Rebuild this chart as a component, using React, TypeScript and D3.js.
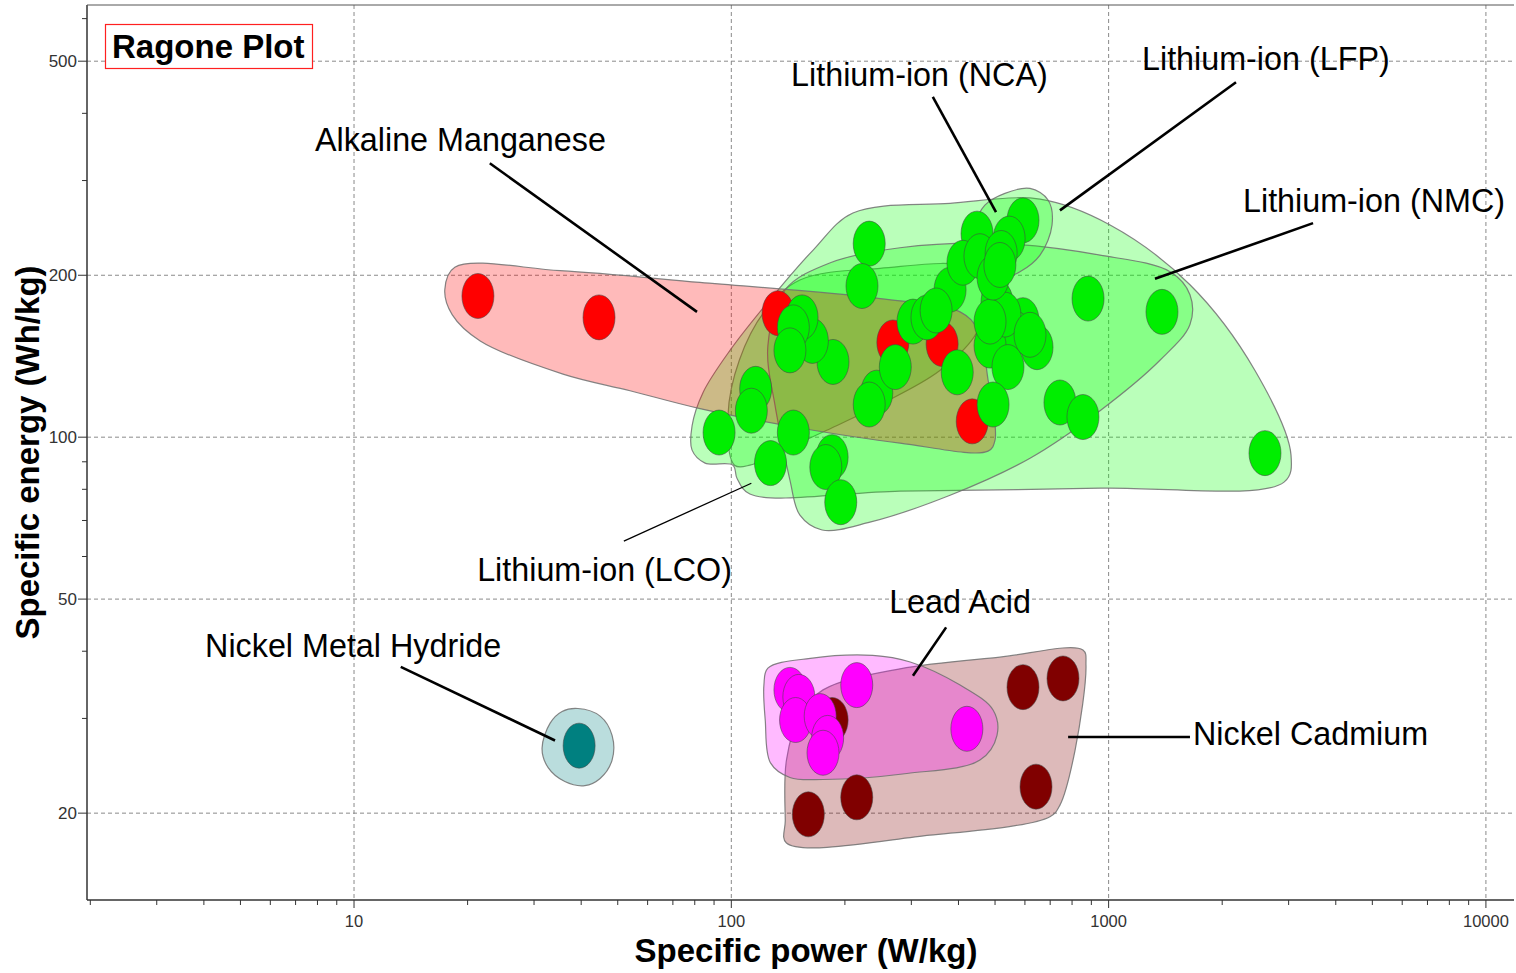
import React from "react";
import * as d3 from "d3";

const W = 1516;
const H = 973;
const M = { left: 87, right: 2, top: 5, bottom: 73 };

// axis extents: specific power (W/kg) and specific energy (Wh/kg)
const X_DOMAIN: [number, number] = [1.96, 11870];
const Y_DOMAIN: [number, number] = [13.79, 636];
const X_LABELS = [10, 100, 1000, 10000];
const Y_LABELS = [20, 50, 100, 200, 500];

type P = [number, number];

// --- cells: [W/kg, Wh/kg] ---
const alkalinePts: P[] = [[21.3, 183], [44.6, 167], [133, 170], [268, 150], [362, 149], [435, 107]];
const lcoPts: P[] = [
  [243, 121], [232, 115], [272, 135], [186, 138], [164, 151], [154, 167], [146, 160], [143, 145],
  [116, 123], [113, 112], [146, 102], [303, 164], [330, 167], [380, 188], [397, 132], [349, 172],
];
const lfpPts: P[] = [
  [92.8, 102], [127, 89.5], [185, 91.8], [178, 88], [232, 229], [222, 191], [448, 239], [2597, 93.4],
  [411, 211], [456, 217],
];
const nmcPts: P[] = [
  [195, 75.7], [882, 181], [1385, 171], [743, 116], [855, 109], [506, 178], [593, 165], [565, 156],
  [646, 147], [485, 148], [541, 135], [494, 115], [531, 169], [619, 155], [485, 164], [494, 198],
];
const ncaPts: P[] = [[593, 253], [545, 234], [519, 220], [515, 209]];
const nimhPts: P[] = [[39.5, 26.7]];
const nicdPts: P[] = [[185, 29.8], [160, 19.9], [215, 21.4], [593, 34.3], [757, 35.6], [642, 22.4]];
const leadPts: P[] = [[143, 33.9], [151, 32.9], [148, 29.8], [172, 30.3], [180, 27.6], [175, 25.9], [215, 34.6], [421, 28.7]];

// --- region outlines (same units) ---
const alkalineArea: P[] = [
  [18.5, 207], [35.2, 204], [82.6, 194], [248, 181], [404, 171], [451, 158], [479, 128], [500, 98.7],
  [479, 94.2], [280, 97.5], [152, 104], [82.6, 113], [53.9, 122], [35.8, 131], [21.6, 151], [18.2, 169], [17.4, 188],
];
const lfpArea: P[] = [
  [210, 261], [380, 272], [658, 277], [1009, 248], [1643, 192], [2443, 133], [3044, 92.6], [2917, 82.5],
  [949, 80.4], [280, 79.4], [112, 78.4], [103.5, 83.9], [101, 88.7], [85.2, 89.5], [78.7, 94.6], [78.7, 105],
  [84.1, 121], [99.2, 145], [124, 177], [165, 223],
];
const lcoArea: P[] = [
  [102, 88.7], [98, 110], [105, 139], [123, 172], [152, 196], [248, 206], [429, 206], [462, 184],
  [448, 157], [357, 133], [248, 115], [179, 103], [143, 95.8], [112, 88.7],
];
const nmcArea: P[] = [
  [139, 188], [183, 211], [280, 225], [515, 229], [949, 218], [1455, 203], [1643, 184], [1643, 162],
  [1368, 139], [949, 112], [619, 91.4], [380, 78.0], [233, 69.5], [174, 67.2], [152, 71.6], [143, 83.2],
  [131, 113], [125, 148],
];
const ncaArea: P[] = [
  [470, 270], [531, 284], [619, 290], [691, 276], [708, 248], [658, 218], [582, 203], [500, 196],
  [451, 200], [434, 218], [442, 248],
];
const nimhArea: P[] = [
  [39.2, 31.3], [44.9, 30.3], [48.3, 27.9], [48.3, 25.1], [44.9, 23.2], [40.9, 22.5], [36.2, 22.9],
  [32.7, 24.3], [31.5, 26.4], [33.1, 29.4], [35.6, 30.9],
];
const nicdArea: P[] = [
  [855, 40.2], [871, 37.7], [815, 26.2], [743, 20.7], [699, 19.7], [336, 18.2], [140, 17.6], [139, 19.4],
  [140, 25.1], [152, 30.4], [175, 33.9], [280, 37.1], [515, 39.0],
];
const leadArea: P[] = [
  [125, 37.2], [162, 38.8], [237, 39.3], [298, 38.2], [404, 34.6], [494, 31.1], [506, 27.9], [456, 25.1],
  [292, 23.7], [175, 23.1], [143, 23.3], [127, 24.8], [123, 29.8], [122, 34.6],
];

// label anchor, leader start, leader end
const NOTES: { text: string; at: P; from: P; to: P; thin?: boolean }[] = [
  { text: "Alkaline Manganese", at: [7.88, 340], from: [22.9, 323], to: [81.1, 171] },
  { text: "Lithium-ion (NCA)", at: [144, 449], from: [342, 429], to: [503, 262] },
  { text: "Lithium-ion (LFP)", at: [1226, 481], from: [2176, 457], to: [743, 264] },
  { text: "Lithium-ion (NMC)", at: [2271, 262], from: [3482, 250], to: [1327, 197] },
  { text: "Lithium-ion (LCO)", at: [21.2, 54.0], from: [51.9, 64.1], to: [113, 82.1], thin: true },
  { text: "Lead Acid", at: [262, 47.1], from: [371, 44.3], to: [303, 36.0] },
  { text: "Nickel Metal Hydride", at: [4.03, 39.0], from: [13.3, 37.4], to: [34.1, 27.3] },
  { text: "Nickel Cadmium", at: [1674, 26.8], from: [1643, 27.7], to: [781, 27.7] },
];

const AREAS: { area: P[]; color: string }[] = [
  { area: lcoArea, color: "#00ff00" },
  { area: lfpArea, color: "#00ff00" },
  { area: nmcArea, color: "#00ff00" },
  { area: ncaArea, color: "#00ff00" },
  { area: alkalineArea, color: "#ff0000" },
  { area: nimhArea, color: "#008080" },
  { area: nicdArea, color: "#800000" },
  { area: leadArea, color: "#ff00ff" },
];

const SERIES: { pts: P[]; color: string }[] = [
  { pts: alkalinePts, color: "#ff0000" },
  { pts: nicdPts, color: "#800000" },
  { pts: leadPts, color: "#ff00ff" },
  { pts: nimhPts, color: "#008080" },
  { pts: lcoPts, color: "#00ee00" },
  { pts: lfpPts, color: "#00ee00" },
  { pts: nmcPts, color: "#00ee00" },
  { pts: ncaPts, color: "#00ee00" },
];

const FONT = "'Liberation Sans', Arial, sans-serif";

export default function App() {
  const x = d3.scaleLog().domain(X_DOMAIN).range([M.left, W - M.right]);
  const y = d3.scaleLog().domain(Y_DOMAIN).range([H - M.bottom, M.top]);
  const x0 = M.left, x1 = W - M.right, y0 = H - M.bottom, y1 = M.top;

  const outline = d3
    .line<P>()
    .x((d) => x(d[0]))
    .y((d) => y(d[1]))
    .curve(d3.curveCatmullRomClosed.alpha(0.5));

  const xTicks = x.ticks().filter((v) => x(v) >= x0 - 0.5);
  const yTicks = y.ticks();

  return (
    <div style={{ position: "absolute", left: 0, top: 0 }}>
      <svg width={W} height={H} style={{ display: "block", background: "#fff" }} fontFamily={FONT}>
        {/* grid */}
        <g stroke="#8a8a8a" strokeWidth={1} strokeDasharray="4,3">
          {X_LABELS.map((v) => (
            <line key={"gx" + v} x1={x(v)} x2={x(v)} y1={y1} y2={y0} />
          ))}
          {Y_LABELS.map((v) => (
            <line key={"gy" + v} x1={x0} x2={x1} y1={y(v)} y2={y(v)} />
          ))}
        </g>

        {/* regions */}
        {AREAS.map((a, i) => (
          <path
            key={"a" + i}
            d={outline(a.area) || ""}
            fill={a.color}
            fillOpacity={0.27}
            stroke="#707070"
            strokeOpacity={0.85}
            strokeWidth={1.2}
          />
        ))}

        {/* cells */}
        {SERIES.map((s, i) => (
          <g key={"s" + i}>
            {s.pts.map((p, j) => (
              <ellipse
                key={j}
                cx={x(p[0])}
                cy={y(p[1])}
                rx={16}
                ry={22.5}
                fill={s.color}
                stroke="rgba(70,70,70,0.55)"
                strokeWidth={1}
              />
            ))}
          </g>
        ))}

        {/* annotations */}
        {NOTES.map((n, i) => (
          <g key={"n" + i}>
            <line
              x1={x(n.from[0])}
              y1={y(n.from[1])}
              x2={x(n.to[0])}
              y2={y(n.to[1])}
              stroke="#000"
              strokeWidth={n.thin ? 1.3 : 2.6}
            />
            <text x={x(n.at[0])} y={y(n.at[1])} fontSize={32.3} fill="#000">
              {n.text}
            </text>
          </g>
        ))}

        {/* axes frame */}
        <line x1={x0} x2={x0} y1={y1} y2={y0} stroke="#333" strokeWidth={1.5} />
        <line x1={x0} x2={x1} y1={y0} y2={y0} stroke="#333" strokeWidth={1.5} />
        <line x1={x0} x2={x1} y1={y1} y2={y1} stroke="#555" strokeWidth={1} />

        {/* x ticks */}
        {xTicks.map((v) => {
          const major = X_LABELS.includes(v);
          return (
            <line key={"xt" + v} x1={x(v)} x2={x(v)} y1={y0} y2={y0 + (major ? 8 : 5)} stroke="#333" />
          );
        })}
        {X_LABELS.map((v) => (
          <text key={"xl" + v} x={x(v)} y={y0 + 27} fontSize={16.5} fill="#333" textAnchor="middle">
            {v}
          </text>
        ))}

        {/* y ticks */}
        {yTicks.map((v) => {
          const major = Y_LABELS.includes(v);
          return (
            <line key={"yt" + v} x1={x0 - (major ? 9 : 5)} x2={x0} y1={y(v)} y2={y(v)} stroke="#333" />
          );
        })}
        {Y_LABELS.map((v) => (
          <text key={"yl" + v} x={x0 - 10} y={y(v)} dy="0.35em" fontSize={17} fill="#333" textAnchor="end">
            {v}
          </text>
        ))}

        {/* axis titles */}
        <text x={806} y={962} fontSize={33} fontWeight="bold" textAnchor="middle">
          Specific power (W/kg)
        </text>
        <text
          transform={`translate(39,${(y0 + y1) / 2}) rotate(-90)`}
          fontSize={33}
          fontWeight="bold"
          textAnchor="middle"
        >
          Specific energy (Wh/kg)
        </text>

        {/* title box */}
        <rect x={105.5} y={24.5} width={207} height={44} fill="#fff" stroke="#ff2020" strokeWidth={1.2} />
        <text x={112} y={58} fontSize={33} fontWeight="bold">
          Ragone Plot
        </text>
      </svg>
    </div>
  );
}
